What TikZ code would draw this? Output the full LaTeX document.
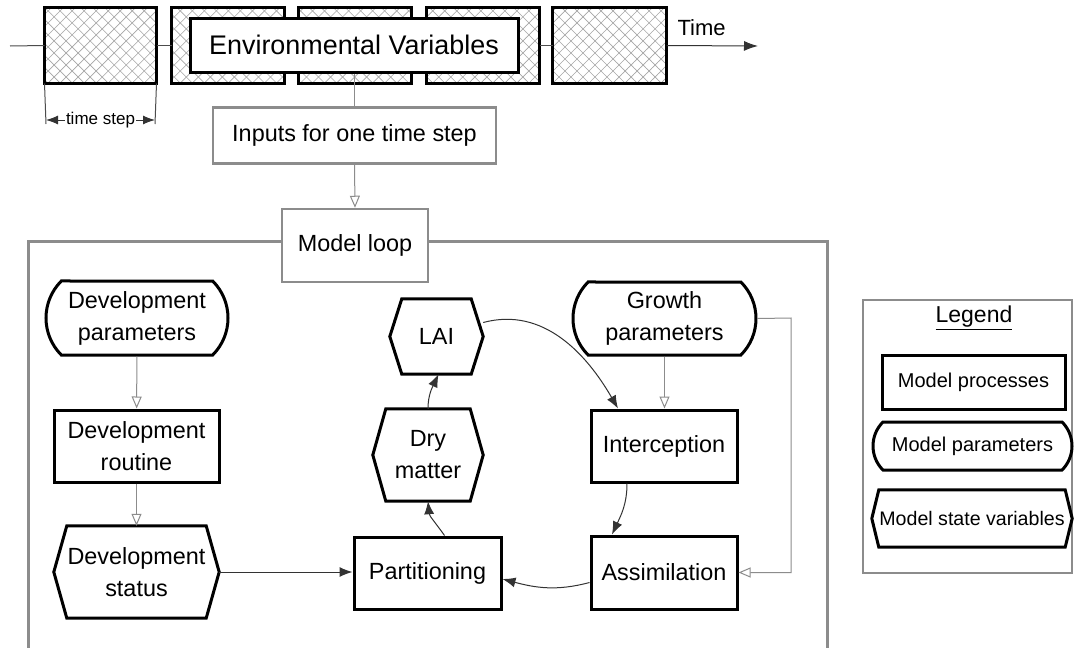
\documentclass[tikz,border=0pt]{standalone}
\usepackage{fontspec}
\setmainfont{Liberation Sans}
\usetikzlibrary{arrows.meta,shapes.misc,patterns.meta}
\newcommand\hexframe[2]{\draw[boxline] (#1.west) -- ([xshift=#2]#1.north west) -- ([xshift=-#2]#1.north east) -- (#1.east) -- ([xshift=-#2]#1.south east) -- ([xshift=#2]#1.south west) -- cycle;}
\newcommand\hatchfill[1]{%
  \fill[pattern={Lines[angle=45,distance=8.5pt,line width=0.6pt]},pattern color=gray!70] (#1.south west) rectangle (#1.north east);
  \fill[pattern={Lines[angle=-45,distance=8.5pt,line width=0.6pt]},pattern color=gray!70] (#1.south west) rectangle (#1.north east);}
\tikzset{
  boxline/.style={line width=3pt,black,line join=miter},
  txt/.style={font=\fontsize{23.4}{32}\selectfont,align=center,text=black},
  proc/.style={txt,draw,boxline,fill=white,rectangle,inner sep=0pt},
  param/.style={txt,draw,boxline,fill=white,rounded rectangle,rounded rectangle arc length=90,inner sep=0pt},
  state/.style={txt,rectangle,inner sep=0pt},
  hatchbox/.style={rectangle,inner sep=0pt,line width=3pt},
  graybox/.style={txt,draw=gray!90,line width=2.5pt,fill=white,rectangle,inner sep=0pt},
  conn/.style={gray!90,line width=1pt},
  openarr/.style={conn,-{Triangle[open,length=12pt,width=10pt]}},
  fillarr/.style={conn,-{Latex[length=13pt,width=10pt]},black!80},
}
\begin{document}
\begin{tikzpicture}[x=1pt,y=-1pt]
\useasboundingbox (0,0) rectangle (1077,648);
\fill[white] (0,0) rectangle (1077,648);
% model loop frame (open at bottom)
\draw[gray!90,line width=3pt] (28,652) -- (28,241) -- (827,241) -- (827,652);
% time axis
\coordinate (tstart) at (10,46);
\coordinate (tend) at (758,46);
\node[hatchbox,minimum width=109pt,minimum height=73pt] (b1) at (100.5,45.5) {};
\node[hatchbox,minimum width=110pt,minimum height=73pt] (b2) at (228,45.5) {};
\node[hatchbox,minimum width=110pt,minimum height=73pt] (b3) at (355,45.5) {};
\node[hatchbox,minimum width=110pt,minimum height=73pt] (b4) at (483,45.5) {};
\node[hatchbox,minimum width=111pt,minimum height=73pt] (b5) at (609.5,45.5) {};
\foreach \b in {b1,b2,b3,b4,b5}{\hatchfill{\b}\draw[boxline] (\b.south west) rectangle (\b.north east);}
\draw[conn,black!70] (tstart) -- (b1.west);
\draw[conn,black!70] (b1.east) -- (b2.west);
\draw[conn,black!70] (b4.east) -- (b5.west);
\draw[conn,black!80,-{Latex[length=14pt,width=10pt]}] (b5.east) -- (tend);
\node[txt,font=\fontsize{22}{26}\selectfont,anchor=west] (timelbl) at (674,28) {Time};
\node[proc,minimum width=328pt,minimum height=54pt,font=\fontsize{26.9}{32}\selectfont] (env) at (354,45) {Environmental Variables};
% time step dimension
\coordinate (d1) at (46,124);
\coordinate (d2) at (155,124);
\draw[conn,black!70] (b1.south west) -- (d1);
\draw[conn,black!70] (b1.south east) -- (d2);
\node[txt,font=\fontsize{17}{20}\selectfont,fill=white,inner sep=1pt] (ts) at (100.5,120) {time step};
\draw[conn,black!80,-{Latex[length=12pt,width=9pt]}] (ts.west) -- (46,120);
\draw[conn,black!80,-{Latex[length=12pt,width=9pt]}] (ts.east) -- (155,120);
% inputs & model loop
\node[graybox,minimum width=283pt,minimum height=56pt] (inp) at (354.5,135.5) {Inputs for one time step};
\node[graybox,minimum width=146pt,minimum height=73pt] (loop) at (355,245.5) {Model loop};
\draw[conn] (env.south -| inp.north) -- (inp.north);
\draw[openarr] (inp.south) -- (loop.north);
% left column
\node[param,minimum width=182pt,minimum height=74pt] (devpar) at (137,318) {Development\\parameters};
\node[proc,minimum width=165pt,minimum height=72pt] (devrout) at (136.5,446) {Development\\routine};
\node[state,minimum width=165pt,minimum height=92pt] (devstat) at (136.5,572) {Development\\status};
\hexframe{devstat}{13pt}
\draw[openarr] (devpar) -- (devrout);
\draw[openarr] (devrout) -- (devstat);
% centre / right
\node[state,minimum width=93pt,minimum height=75pt] (lai) at (436.5,336.5) {LAI};
\hexframe{lai}{12pt}
\node[state,minimum width=110pt,minimum height=92pt] (dry) at (428,455) {Dry\\matter};
\hexframe{dry}{13pt}
\node[proc,minimum width=147pt,minimum height=72pt] (part) at (427.5,573) {Partitioning};
\node[param,minimum width=183pt,minimum height=73pt] (growth) at (664.5,318.5) {Growth\\parameters};
\node[proc,minimum width=146pt,minimum height=72pt] (inter) at (664,446) {Interception};
\node[proc,minimum width=146pt,minimum height=73pt] (assim) at (664,572.5) {Assimilation};
\draw[fillarr] (devstat.east) -- (part.west |- devstat.east);
\draw[openarr] (growth.south) -- (inter.north -| growth.south);
\coordinate (gr1) at (791,318);
\coordinate (gr2) at (791,572.5);
\draw[openarr] (growth.east) -- (gr1) -- (gr2) -- (assim.east);
\draw[fillarr] ([yshift=14pt]lai.east) to[out=15,in=120] ([xshift=-46pt]inter.north);
\draw[fillarr] ([xshift=-37pt]inter.south) to[out=-90,in=65] ([xshift=-52pt]assim.north);
\draw[fillarr] ([yshift=-10pt]assim.west) to[out=195,in=-15] ([yshift=-6pt]part.east);
\draw[fillarr] ([xshift=17pt]part.north) to[out=125,in=-85] (dry.south);
\draw[fillarr] (dry.north) to[out=90,in=-115] ([xshift=2pt]lai.south);
% legend
\draw[gray!90,line width=2.5pt] (863,300) rectangle (1072,573);
\node[txt,font=\fontsize{23}{26}\selectfont] (legtitle) at (974,318) {\underline{Legend}};
\node[proc,minimum width=183pt,minimum height=54pt,font=\fontsize{20}{24}\selectfont] (lproc) at (973.5,382) {Model processes};
\node[param,minimum width=199pt,minimum height=48pt,font=\fontsize{20}{24}\selectfont] (lpar) at (972.5,446) {Model parameters};
\node[state,minimum width=200pt,minimum height=57pt,font=\fontsize{19.6}{24}\selectfont] (lstate) at (972,518.5) {Model state variables};
\hexframe{lstate}{7pt}
\end{tikzpicture}
\end{document}
